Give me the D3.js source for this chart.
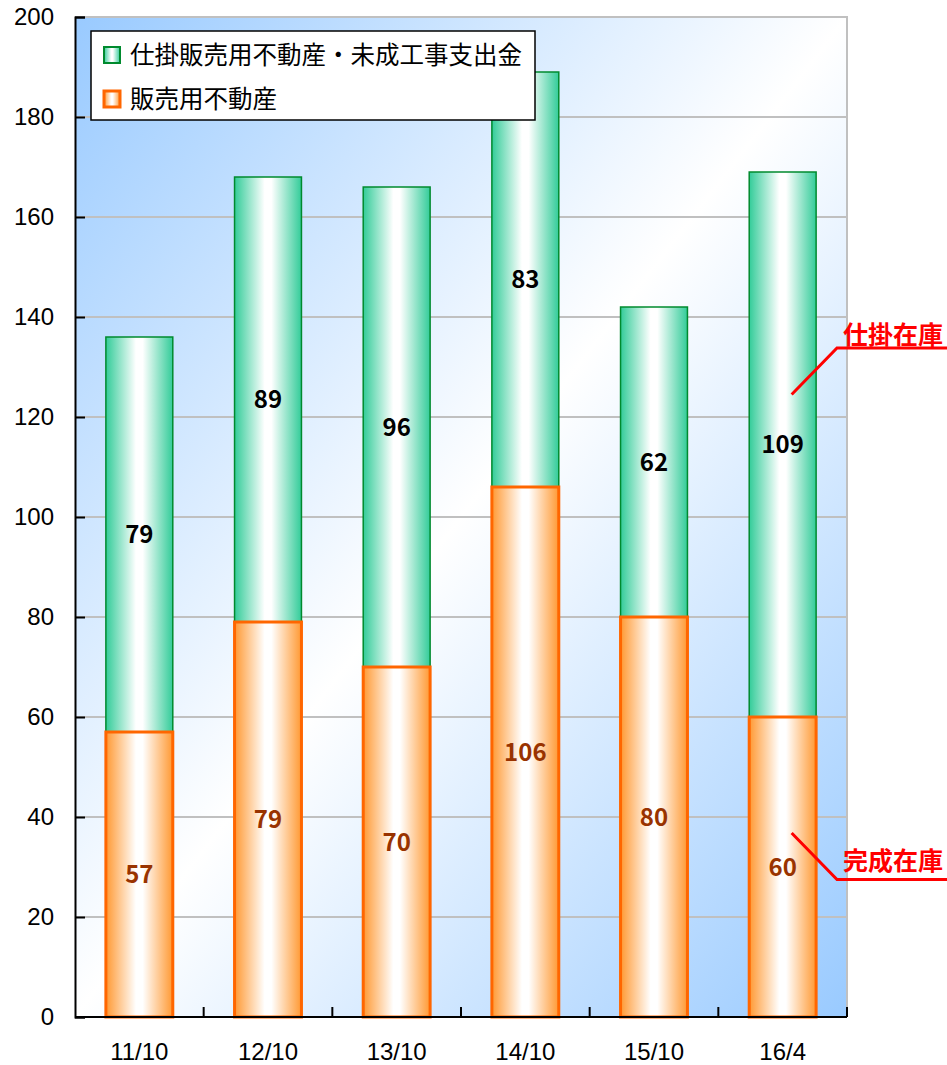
<!DOCTYPE html>
<html>
<head>
<meta charset="utf-8">
<script src="https://cdn.jsdelivr.net/npm/d3@7"></script>
<style>
  body { margin: 0; background: #fff; }
  svg text { font-family: "Noto Sans CJK JP", sans-serif; }
  svg text.num { font-family: "Liberation Sans", "DejaVu Sans", sans-serif; }
</style>
</head>
<body>
<svg class="chart"></svg>
<script>
// stacked inventory bars
var categories = ["11/10", "12/10", "13/10", "14/10", "15/10", "16/4"];
var soldValues = [57, 79, 70, 106, 80, 60];      // 販売用不動産
var wipValues = [79, 89, 96, 83, 62, 109];       // 仕掛販売用不動産・未成工事支出金
var yTicks = [0, 20, 40, 60, 80, 100, 120, 140, 160, 180, 200];
var seriesNames = ["仕掛販売用不動産・未成工事支出金", "販売用不動産"];

var width = 947, height = 1065;
var margin = { top: 17, right: 100, bottom: 48, left: 75 };

var svg = d3.select(".chart")
  .attr("width", width)
  .attr("height", height);

var x = d3.scaleBand()
  .domain(categories)
  .range([margin.left, width - margin.right])
  .paddingInner(0.48)
  .paddingOuter(0.24);

var y = d3.scaleLinear()
  .domain([0, 200])
  .range([height - margin.bottom, margin.top]);

var defs = svg.append("defs");

// background: blue corners, white diagonal
var bg = defs.append("linearGradient")
  .attr("id", "bg").attr("x1", 0).attr("y1", 0).attr("x2", 1).attr("y2", 1);
bg.append("stop").attr("offset", 0).attr("stop-color", "#99caff");
bg.append("stop").attr("offset", 0.5).attr("stop-color", "#ffffff");
bg.append("stop").attr("offset", 1).attr("stop-color", "#99caff");

function barGradient(id, edge) {
  var g = defs.append("linearGradient")
    .attr("id", id).attr("x1", 0).attr("y1", 0).attr("x2", 1).attr("y2", 0);
  g.append("stop").attr("offset", 0).attr("stop-color", edge);
  g.append("stop").attr("offset", 0.45).attr("stop-color", "#ffffff");
  g.append("stop").attr("offset", 0.55).attr("stop-color", "#ffffff");
  g.append("stop").attr("offset", 1).attr("stop-color", edge);
}
barGradient("gGreen", "#33cc99");
barGradient("gOrange", "#ff9933");

var x0 = margin.left, x1 = width - margin.right;

svg.append("rect")
  .attr("x", x0).attr("y", y(200))
  .attr("width", x1 - x0).attr("height", y(0) - y(200))
  .attr("fill", "url(#bg)");

// gridlines
svg.append("g")
  .selectAll("line")
  .data(yTicks.filter(function(d) { return d > 0 && d < 200; }))
  .join("line")
  .attr("x1", x0).attr("x2", x1)
  .attr("y1", function(d) { return y(d); })
  .attr("y2", function(d) { return y(d); })
  .attr("stroke", "#c0c0c0").attr("stroke-width", 2);

// top + right frame
svg.append("path")
  .attr("d", "M" + x0 + "," + y(200) + "H" + x1 + "V" + y(0))
  .attr("fill", "none").attr("stroke", "#c0c0c0").attr("stroke-width", 2);

// bars
var rows = categories.map(function(c, i) {
  return { cat: c, sold: soldValues[i], wip: wipValues[i] };
});

var bars = svg.append("g").selectAll("g").data(rows).join("g");

bars.append("rect")
  .attr("x", function(d) { return x(d.cat); })
  .attr("y", function(d) { return y(d.sold + d.wip); })
  .attr("width", x.bandwidth())
  .attr("height", function(d) { return y(d.sold) - y(d.sold + d.wip); })
  .attr("fill", "url(#gGreen)")
  .attr("stroke", "#008a2e").attr("stroke-width", 1.5);

bars.append("rect")
  .attr("x", function(d) { return x(d.cat); })
  .attr("y", function(d) { return y(d.sold); })
  .attr("width", x.bandwidth())
  .attr("height", function(d) { return y(0) - y(d.sold); })
  .attr("fill", "url(#gOrange)")
  .attr("stroke", "#ff6600").attr("stroke-width", 3);

bars.append("text")
  .attr("x", function(d) { return x(d.cat) + x.bandwidth() / 2; })
  .attr("y", function(d) { return y(d.sold + d.wip / 2); })
  .attr("dy", "0.36em")
  .attr("text-anchor", "middle")
  .attr("font-size", 24).attr("font-weight", "bold")
  .attr("fill", "#000")
  .text(function(d) { return d.wip; });

bars.append("text")
  .attr("x", function(d) { return x(d.cat) + x.bandwidth() / 2; })
  .attr("y", function(d) { return y(d.sold / 2); })
  .attr("dy", "0.36em")
  .attr("text-anchor", "middle")
  .attr("font-size", 24).attr("font-weight", "bold")
  .attr("fill", "#993300")
  .text(function(d) { return d.sold; });

// y axis
var yAxis = svg.append("g")
  .attr("transform", "translate(" + x0 + ",0)")
  .call(d3.axisRight(y).tickValues(yTicks).tickSize(10).tickFormat(d3.format("d")));
yAxis.select(".domain").attr("stroke", "#000").attr("stroke-width", 2);
yAxis.selectAll(".tick line").attr("stroke", "#000").attr("stroke-width", 2);
yAxis.selectAll(".tick text")
  .attr("class", "num")
  .attr("x", -21).attr("text-anchor", "end")
  .attr("font-size", 24).attr("fill", "#000");

// x axis: ticks at band boundaries, labels at band centers
var bounds = categories.map(function(c) { return x(c) - x.step() * x.paddingInner() / 2; })
  .concat([x1]);
var xAxis = svg.append("g");
xAxis.append("line")
  .attr("x1", x0).attr("x2", x1)
  .attr("y1", y(0)).attr("y2", y(0))
  .attr("stroke", "#000").attr("stroke-width", 2);
xAxis.selectAll(".tk").data(bounds.slice(1)).join("line")
  .attr("class", "tk")
  .attr("x1", function(d) { return d; }).attr("x2", function(d) { return d; })
  .attr("y1", y(0)).attr("y2", y(0) - 10)
  .attr("stroke", "#000").attr("stroke-width", 2);
xAxis.selectAll("text").data(categories).join("text")
  .attr("class", "num")
  .attr("x", function(d) { return x(d) + x.bandwidth() / 2; })
  .attr("y", y(0) + 34)
  .attr("dy", "0.36em")
  .attr("text-anchor", "middle")
  .attr("font-size", 24).attr("fill", "#000")
  .text(function(d) { return d; });

// legend
var legend = svg.append("g").attr("transform", "translate(91,31)");
legend.append("rect")
  .attr("width", 444).attr("height", 89)
  .attr("fill", "#fff").attr("stroke", "#000").attr("stroke-width", 1.5);
var legendItems = [
  { name: seriesNames[0], fill: "url(#gGreen)", stroke: "#008a2e", sw: 2 },
  { name: seriesNames[1], fill: "url(#gOrange)", stroke: "#ff6600", sw: 3 }
];
var li = legend.selectAll(".item").data(legendItems).join("g")
  .attr("class", "item")
  .attr("transform", function(d, i) { return "translate(0," + (24 + i * 44) + ")"; });
li.append("rect")
  .attr("x", 13).attr("y", -8).attr("width", 16).attr("height", 16)
  .attr("fill", function(d) { return d.fill; })
  .attr("stroke", function(d) { return d.stroke; })
  .attr("stroke-width", function(d) { return d.sw; });
li.append("text")
  .attr("x", 39).attr("dy", "0.36em")
  .attr("font-size", 24.5).attr("fill", "#000")
  .text(function(d) { return d.name; });

// callouts on the last bar
var last = rows[rows.length - 1];
var cx = x(last.cat) + x.bandwidth() / 2 + 9;
var callouts = [
  { label: "仕掛在庫", from: [cx, y(124.5)], knee: [x1 - 10, y(133.8)], ty: y(136.5) },
  { label: "完成在庫", from: [cx, y(36.8)], knee: [x1 - 10, y(27.5)], ty: y(31.2) }
];
var co = svg.append("g");
co.selectAll("path").data(callouts).join("path")
  .attr("d", function(d) { return "M" + d.from + "L" + d.knee + "H" + width; })
  .attr("fill", "none").attr("stroke", "#ff0000").attr("stroke-width", 3);
co.selectAll("text").data(callouts).join("text")
  .attr("x", x1 - 4).attr("y", function(d) { return d.ty; })
  .attr("dy", "0.36em")
  .attr("font-size", 25).attr("font-weight", "bold").attr("fill", "#ff0000")
  .text(function(d) { return d.label; });
</script>
</body>
</html>
